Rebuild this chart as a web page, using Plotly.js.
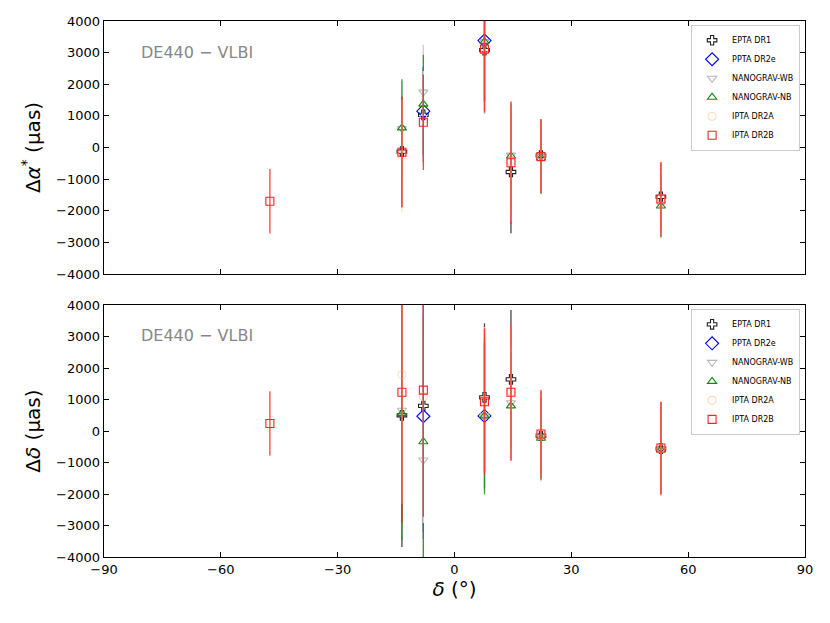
<!DOCTYPE html>
<html>
<head>
<meta charset="utf-8">
<script src="https://cdn.plot.ly/plotly-3.0.1.min.js"></script>
<style>
  html, body { margin: 0; padding: 0; background: #fff; }
  #plot { width: 830px; height: 623px; }
</style>
</head>
<body>
<div id="plot"></div>
<script>
// pulsar declinations (deg) and offsets DE440 - VLBI (micro-arcsec)
const names = ["EPTA DR1", "PPTA DR2e", "NANOGRAV-WB", "NANOGRAV-NB", "IPTA DR2A", "IPTA DR2B"];

const epta_dec = [-13.5, -8.0, 7.7, 14.5, 22.2, 53.0],
  epta_ra = [-130, 1030, 3080, -775, -260, -1560],
  epta_ra_err = [1750, 1500, 2000, 1940, 1160, 1060],
  epta_de = [500, 800, 1070, 1640, -150, -560],
  epta_de_err = [4180, 4000, 2350, 2200, 1400, 1480];

const ppta_dec = [-8.0, 7.7],
  ppta_ra = [1150, 3380],
  ppta_ra_err = [1400, 1900],
  ppta_de = [470, 480],
  ppta_de_err = [3900, 2300];

const ngwb_dec = [-13.5, -8.0, 7.7, 14.5, 22.2, 53.0],
  ngwb_ra = [600, 1750, 3350, -240, -300, -1800],
  ngwb_ra_err = [1500, 1500, 1900, 1650, 1150, 1050],
  ngwb_de = [660, -920, 480, 900, -200, -600],
  ngwb_de_err = [4000, 3900, 2400, 1750, 1400, 1450];

const ngnb_dec = [-13.5, -8.0, 7.7, 14.5, 22.2, 53.0],
  ngnb_ra = [620, 1370, 3350, -270, -320, -1850],
  ngnb_ra_err = [1540, 1560, 1900, 1650, 1150, 1000],
  ngnb_de = [560, -340, 480, 800, -230, -600],
  ngnb_de_err = [4020, 4000, 2490, 1700, 1300, 1400];

const ipa_dec = [-13.5, -8.0, 7.7, 14.5, 22.2, 53.0],
  ipa_ra = [-250, 900, 3100, -450, -280, -1620],
  ipa_ra_err = [1780, 1520, 2000, 1900, 1160, 1170],
  ipa_de = [1790, 1090, 950, 1250, -100, -550],
  ipa_de_err = [4100, 4010, 2350, 2150, 1400, 1470];

const ipb_dec = [-47.4, -13.5, -8.0, 7.7, 14.5, 22.2, 53.0],
  ipb_ra = [-1700, -150, 800, 3110, -480, -290, -1630],
  ipb_ra_err = [1020, 1750, 1510, 1980, 1935, 1160, 1170],
  ipb_de = [240, 1230, 1300, 930, 1230, -95, -540],
  ipb_de_err = [1020, 4160, 4020, 2330, 2180, 1400, 1470];

const xTicks = [-90, -60, -30, 0, 30, 60, 90];
const yTicks = [-4000, -3000, -2000, -1000, 0, 1000, 2000, 3000, 4000];

const styles = [
  {sym: "cross-open", col: "#222222", bar: "rgba(40,40,40,0.85)", size: 8},
  {sym: "diamond-open", col: "#0000ff", bar: "rgba(0,0,255,0.8)", size: 10},
  {sym: "triangle-down-open", col: "#b8b8b8", bar: "rgba(190,190,190,0.8)", size: 8},
  {sym: "triangle-up-open", col: "#118811", bar: "rgba(17,136,17,0.8)", size: 8},
  {sym: "circle-open", col: "#ffd8b8", bar: "rgba(255,216,184,0.9)", size: 8},
  {sym: "square-open", col: "#ff2222", bar: "rgba(255,20,20,0.8)", size: 8}
];

const sets = [
  [epta_dec, epta_ra, epta_ra_err, epta_de, epta_de_err],
  [ppta_dec, ppta_ra, ppta_ra_err, ppta_de, ppta_de_err],
  [ngwb_dec, ngwb_ra, ngwb_ra_err, ngwb_de, ngwb_de_err],
  [ngnb_dec, ngnb_ra, ngnb_ra_err, ngnb_de, ngnb_de_err],
  [ipa_dec, ipa_ra, ipa_ra_err, ipa_de, ipa_de_err],
  [ipb_dec, ipb_ra, ipb_ra_err, ipb_de, ipb_de_err]
];

function mk(i, y, err, panel) {
  var s = styles[i];
  return {
    x: sets[i][0], y: y,
    xaxis: panel == 1 ? "x" : "x2",
    yaxis: panel == 1 ? "y" : "y2",
    legend: panel == 1 ? "legend" : "legend2",
    name: names[i],
    type: "scatter", mode: "markers",
    marker: {symbol: s.sym, size: s.size, color: s.col, line: {width: 1.1, color: s.col}},
    error_y: {type: "data", array: err, visible: true, color: s.bar, thickness: 1.3, width: 0}
  };
}

var data = [];
for (var i = 0; i < sets.length; i++) data.push(mk(i, sets[i][1], sets[i][2], 1));
for (var i = 0; i < sets.length; i++) data.push(mk(i, sets[i][3], sets[i][4], 2));

const fam = "DejaVu Sans, Arial, sans-serif";
function xax(extra) {
  return Object.assign({
    range: [-90, 90], tickvals: xTicks, ticks: "inside", ticklen: 5, tickwidth: 1,
    tickcolor: "#000", showline: true, linecolor: "#000", linewidth: 1.3, mirror: "allticks",
    showgrid: false, zeroline: false, tickfont: {family: fam, size: 13, color: "#000"}
  }, extra);
}
function yax(extra) {
  return Object.assign({
    range: [-4000, 4000], tickvals: yTicks, ticks: "inside", ticklen: 5, tickwidth: 1,
    tickcolor: "#000", showline: true, linecolor: "#000", linewidth: 1.3, mirror: "allticks",
    showgrid: false, zeroline: false, tickfont: {family: fam, size: 13, color: "#000"}
  }, extra);
}

const legendStyle = {
  xanchor: "right", yanchor: "top", x: 0.993,
  bgcolor: "rgba(255,255,255,0.9)", bordercolor: "#cccccc", borderwidth: 1,
  font: {family: fam, size: 8, color: "#000"}, tracegroupgap: 0, itemwidth: 30
};

var layout = {
  width: 830, height: 623,
  margin: {l: 104, r: 25, t: 21, b: 66},
  paper_bgcolor: "#fff", plot_bgcolor: "#fff",
  font: {family: fam},
  xaxis: xax({anchor: "y", showticklabels: false, matches: "x2"}),
  yaxis: yax({anchor: "x", domain: [0.528, 1],
    title: {text: "Δ<i>α</i><sup>*</sup> (μas)", font: {family: fam, size: 20, color: "#000"}, standoff: 10}}),
  xaxis2: xax({anchor: "y2",
    title: {text: "<i>δ</i> (°)", font: {family: fam, size: 20, color: "#000"}, standoff: 4}}),
  yaxis2: yax({anchor: "x2", domain: [0, 0.470],
    title: {text: "Δ<i>δ</i> (μas)", font: {family: fam, size: 20, color: "#000"}, standoff: 10}}),
  legend: Object.assign({y: 0.993}, legendStyle),
  legend2: Object.assign({y: 0.463}, legendStyle),
  annotations: [
    {xref: "x domain", yref: "y domain", x: 0.05, y: 0.877, xanchor: "left", yanchor: "middle",
     text: "DE440 − VLBI", showarrow: false, font: {family: fam, size: 16, color: "#888888"}},
    {xref: "x2 domain", yref: "y2 domain", x: 0.05, y: 0.881, xanchor: "left", yanchor: "middle",
     text: "DE440 − VLBI", showarrow: false, font: {family: fam, size: 16, color: "#888888"}}
  ]
};

Plotly.newPlot("plot", data, layout, {displayModeBar: false, staticPlot: true});
</script>
</body>
</html>
